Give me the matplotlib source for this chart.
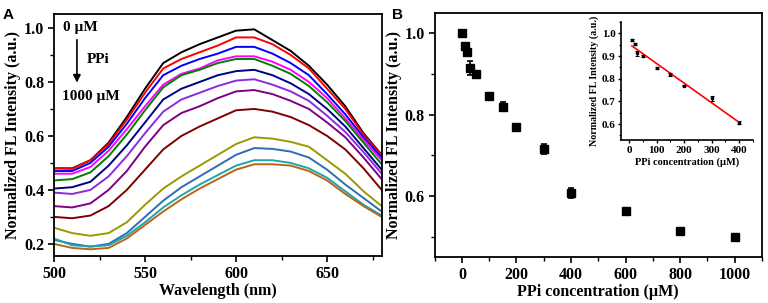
import matplotlib
matplotlib.use("Agg")
import matplotlib.pyplot as plt
import numpy as np
from matplotlib.ticker import MultipleLocator

plt.rcParams["font.family"] = ["Liberation Serif", "DejaVu Serif"]
plt.rcParams["font.weight"] = "bold"
plt.rcParams["axes.labelweight"] = "bold"

# panel A: emission spectra, 0 -> 1000 uM PPi
wavelength = [500, 510, 520, 530, 540, 550, 560, 570, 580, 590,
              600, 610, 620, 630, 640, 650, 660, 670, 680]
spec_0 = [0.48, 0.48, 0.51, 0.575, 0.67, 0.775, 0.87, 0.91, 0.94, 0.965,
          0.99, 0.995, 0.955, 0.915, 0.86, 0.79, 0.71, 0.61, 0.53]
spec_10 = [0.48, 0.478, 0.51, 0.57, 0.66, 0.76, 0.85, 0.885, 0.91, 0.935,
           0.965, 0.965, 0.94, 0.90, 0.85, 0.775, 0.70, 0.605, 0.528]
spec_20 = [0.47, 0.47, 0.50, 0.56, 0.645, 0.74, 0.825, 0.86, 0.885, 0.905,
           0.93, 0.93, 0.905, 0.87, 0.825, 0.755, 0.68, 0.595, 0.52]
spec_30 = [0.46, 0.46, 0.485, 0.545, 0.625, 0.71, 0.79, 0.83, 0.85, 0.88,
           0.895, 0.895, 0.875, 0.845, 0.80, 0.74, 0.665, 0.585, 0.51]
spec_50 = [0.435, 0.44, 0.465, 0.525, 0.605, 0.695, 0.78, 0.825, 0.845, 0.87,
           0.885, 0.885, 0.86, 0.83, 0.785, 0.725, 0.655, 0.575, 0.495]
spec_100 = [0.405, 0.41, 0.43, 0.49, 0.565, 0.65, 0.735, 0.775, 0.80, 0.825,
            0.84, 0.845, 0.825, 0.795, 0.755, 0.70, 0.635, 0.555, 0.475]
spec_150 = [0.39, 0.385, 0.40, 0.45, 0.525, 0.61, 0.69, 0.735, 0.76, 0.785,
            0.805, 0.81, 0.79, 0.765, 0.73, 0.675, 0.615, 0.54, 0.46]
spec_200 = [0.34, 0.335, 0.35, 0.40, 0.47, 0.56, 0.64, 0.685, 0.71, 0.74,
            0.765, 0.77, 0.755, 0.73, 0.70, 0.65, 0.595, 0.52, 0.44]
spec_300 = [0.30, 0.295, 0.305, 0.34, 0.40, 0.475, 0.55, 0.60, 0.635, 0.665,
            0.695, 0.70, 0.69, 0.67, 0.64, 0.60, 0.55, 0.48, 0.40]
spec_400 = [0.26, 0.24, 0.23, 0.24, 0.28, 0.345, 0.405, 0.45, 0.49, 0.53,
            0.57, 0.595, 0.59, 0.578, 0.56, 0.51, 0.46, 0.395, 0.34]
spec_600 = [0.215, 0.20, 0.19, 0.20, 0.24, 0.30, 0.36, 0.41, 0.45, 0.49,
            0.53, 0.555, 0.552, 0.542, 0.52, 0.475, 0.42, 0.37, 0.32]
spec_800 = [0.22, 0.195, 0.19, 0.195, 0.23, 0.28, 0.335, 0.38, 0.42, 0.455,
            0.49, 0.51, 0.51, 0.50, 0.48, 0.445, 0.395, 0.345, 0.305]
spec_1000 = [0.20, 0.185, 0.18, 0.185, 0.22, 0.27, 0.32, 0.365, 0.405, 0.44,
             0.475, 0.495, 0.495, 0.49, 0.47, 0.435, 0.385, 0.34, 0.30]
spectra = [spec_0, spec_10, spec_20, spec_30, spec_50, spec_100, spec_150,
           spec_200, spec_300, spec_400, spec_600, spec_800, spec_1000]
spec_colors = ["#000000", "#ff0000", "#0000ff", "#ff00ff", "#008000", "#000080",
               "#8a2be2", "#800080", "#800000", "#999900", "#2e6db4", "#1fa5a5",
               "#b8651b"]

# panel B: quenching vs PPi concentration
ppi = [0, 10, 20, 30, 50, 100, 150, 200, 300, 400, 600, 800, 1000]
fl = [1.0, 0.97, 0.953, 0.915, 0.90, 0.845, 0.82, 0.77, 0.715, 0.607, 0.562, 0.515, 0.50]
fl_err = [0.008, 0.006, 0.006, 0.018, 0.004, 0.005, 0.01, 0.004, 0.012, 0.012, 0.005, 0.006, 0.004]

# inset: linear range
ins_x = [10, 20, 30, 50, 100, 150, 200, 300, 400]
ins_y = [0.97, 0.955, 0.912, 0.90, 0.846, 0.82, 0.77, 0.714, 0.607]
ins_err = [0.005, 0.004, 0.012, 0.003, 0.004, 0.006, 0.003, 0.01, 0.008]

fig = plt.figure(figsize=(7.68, 3.03), dpi=100)

# ---- A ----
ax = fig.add_axes([0.0703, 0.155, 0.4267, 0.799])
for y, c in zip(spectra, spec_colors):
    ax.plot(wavelength, y, color=c, lw=1.4)
ax.set_xlim(500, 680)
ax.set_ylim(0.155, 1.052)
ax.xaxis.set_major_locator(MultipleLocator(50))
ax.xaxis.set_minor_locator(MultipleLocator(25))
ax.yaxis.set_major_locator(MultipleLocator(0.2))
ax.yaxis.set_minor_locator(MultipleLocator(0.1))
ax.set_xlabel("Wavelength (nm)", fontsize=11.5, labelpad=1)
ax.set_ylabel("Normalized FL Intensity (a.u.)", fontsize=11.5, labelpad=2)
ax.annotate("", xy=(0.07, 0.705), xytext=(0.07, 0.905), xycoords="axes fraction",
            arrowprops=dict(arrowstyle="-|>", color="black", lw=1.2, mutation_scale=11))
ax.text(0.028, 0.946, "0 µM", transform=ax.transAxes, fontsize=11, fontweight="bold", va="center")
ax.text(0.10, 0.81, "PPi", transform=ax.transAxes, fontsize=11, fontweight="bold", va="center")
ax.text(0.024, 0.66, "1000 µM", transform=ax.transAxes, fontsize=11, fontweight="bold", va="center")

# ---- B ----
bx = fig.add_axes([0.566, 0.152, 0.426, 0.805])
bx.errorbar(ppi, fl, yerr=fl_err, fmt="s", color="black", ms=6, capsize=2.5,
            elinewidth=1.2, capthick=1.2)
bx.set_xlim(-100, 1100)
bx.set_ylim(0.45, 1.05)
bx.xaxis.set_major_locator(MultipleLocator(200))
bx.xaxis.set_minor_locator(MultipleLocator(100))
bx.yaxis.set_major_locator(MultipleLocator(0.2))
bx.yaxis.set_minor_locator(MultipleLocator(0.1))
bx.set_xlabel("PPi concentration (µM)", fontsize=11.5, labelpad=1)
bx.set_ylabel("Normalized FL Intensity (a.u.)", fontsize=11.5, labelpad=2)

for a in (ax, bx):
    for s in a.spines.values():
        s.set_linewidth(1.3)
    a.tick_params(which="major", direction="out", length=4, width=1.2, labelsize=11.5, pad=3)
    a.tick_params(which="minor", direction="out", length=3, width=1.0)
    for lab in a.get_xticklabels() + a.get_yticklabels():
        lab.set_fontweight("bold")

# ---- inset ----
ix = fig.add_axes([0.8086, 0.538, 0.1714, 0.389])
ix.errorbar(ins_x, ins_y, yerr=ins_err, fmt="s", color="black", ms=2, capsize=1.5,
            elinewidth=0.8, capthick=0.8)
k, b = np.polyfit(ins_x, ins_y, 1)
fit_x = np.array([ins_x[0], ins_x[-1]])
ix.plot(fit_x, k * fit_x + b, color="red", lw=1.2)
ix.set_xlim(-30, 450)
ix.set_ylim(0.53, 1.05)
ix.xaxis.set_major_locator(MultipleLocator(100))
ix.xaxis.set_minor_locator(MultipleLocator(50))
ix.yaxis.set_major_locator(MultipleLocator(0.1))
ix.yaxis.set_minor_locator(MultipleLocator(0.05))
ix.spines["top"].set_visible(False)
ix.spines["right"].set_visible(False)
for s in ("left", "bottom"):
    ix.spines[s].set_linewidth(1.2)
ix.tick_params(which="major", direction="out", length=2.5, width=1, labelsize=8, pad=1.5)
ix.tick_params(which="minor", direction="out", length=1.5, width=0.8)
ix.set_xlabel("PPi concentration (µM)", fontsize=7.5, labelpad=2)
ix.set_ylabel("Normalized FL Intensity (a.u.)", fontsize=7.2, labelpad=2)
for lab in ix.get_xticklabels() + ix.get_yticklabels():
    lab.set_fontweight("bold")

fig.text(0.004, 0.975, "A", fontsize=11, fontweight="bold", va="top",
         family=["Liberation Sans", "DejaVu Sans"])
fig.text(0.511, 0.975, "B", fontsize=11, fontweight="bold", va="top",
         family=["Liberation Sans", "DejaVu Sans"])

fig.savefig("out.png", dpi=100)
